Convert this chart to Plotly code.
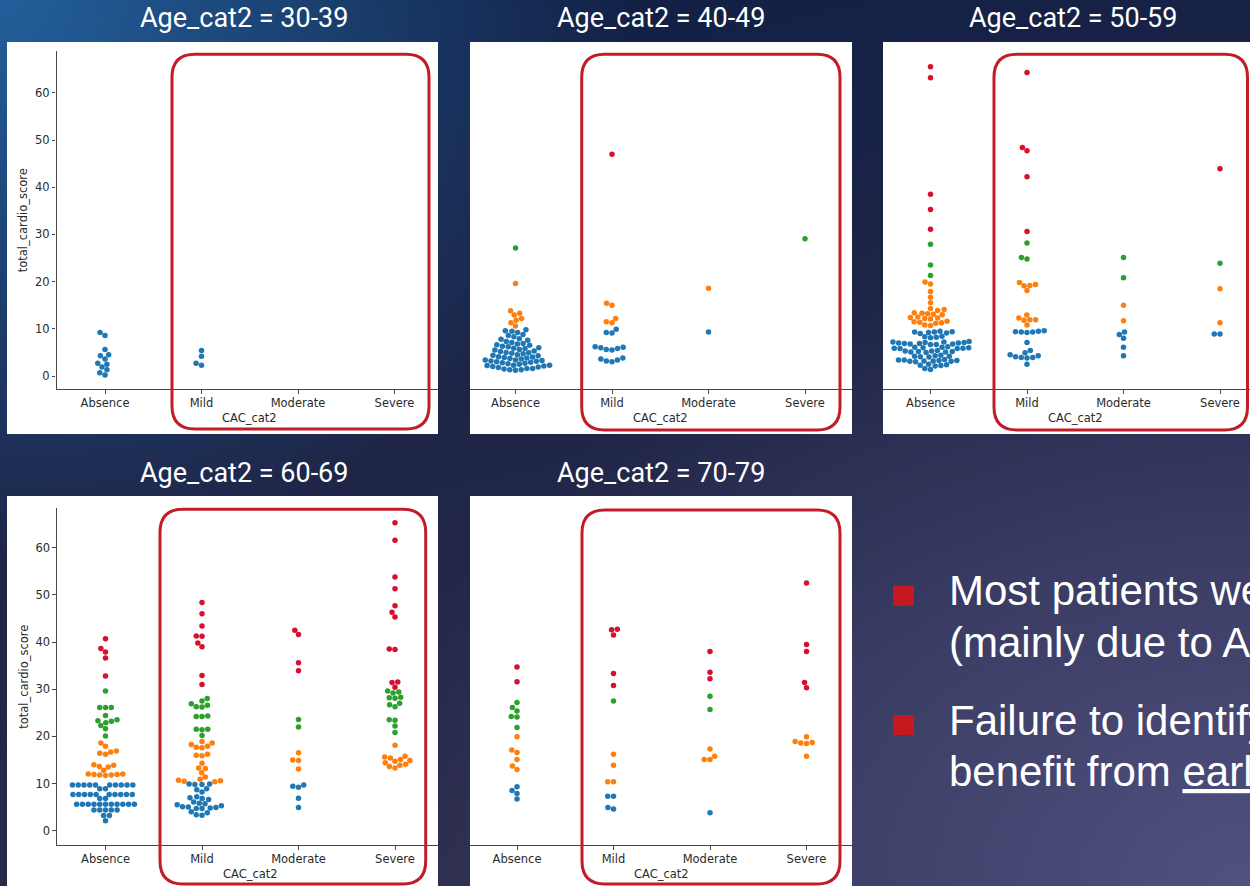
import base64
import numpy as np
import plotly.graph_objects as go

# ---------------------------------------------------------------- data
CAC_LEVELS = ["Absence", "Mild", "Moderate", "Severe"]
AGE_GROUPS = ["30-39", "40-49", "50-59", "60-69", "70-79"]
Y_TICKS = [0, 10, 20, 30, 40, 50, 60]
RISK_EDGES = [10, 20, 30]                       # score bands -> hue
RISK_COLORS = ["#1f77b4", "#ff7f0e", "#2ca02c", "#d6102e"]

# total_cardio_score per patient, grouped by age band and CAC category
score_3039_absence = [9.2, 8.6, 5.6, 4.5, 4.3, 3.6, 2.7, 2.5, 1.9, 1.3, 0.7, 0.2]
score_3039_mild = [5.4, 4.2, 2.7, 2.3]
score_3039_moderate = []
score_3039_severe = []

score_4049_absence = [
    27.1, 19.6, 13.8, 13.3, 12.9, 12.2, 11.8, 11.3, 10.6,
    9.8, 9.6, 9.5, 9.2, 8.8, 8.6, 8.3,
    7.9, 7.8, 7.6, 7.3, 7.1,
    6.9, 6.8, 6.6, 6.5, 6.3, 6.2, 6.0,
    5.9, 5.8, 5.6, 5.5, 5.3, 5.2, 5.0,
    4.9, 4.8, 4.7, 4.5, 4.4, 4.3, 4.1, 4.0,
    3.9, 3.8, 3.7, 3.6, 3.4, 3.4, 3.3, 3.2, 3.1, 3.0,
    2.9, 2.8, 2.7, 2.6, 2.5, 2.3, 2.3, 2.2, 2.1, 2.0,
    1.9, 1.8, 1.6, 1.6, 1.5, 1.3, 1.3, 1.2,
]
score_4049_mild = [47.0, 15.4, 15.0, 12.2, 11.5, 11.3, 9.9, 9.2, 9.1,
                   6.2, 6.1, 6.0, 5.8, 5.6, 5.5, 3.8, 3.6, 3.4, 3.2, 3.0]
score_4049_moderate = [18.6, 9.3]
score_4049_severe = [29.1]

score_5059_absence = [
    65.5, 63.2, 38.5, 35.3, 31.1, 27.9, 23.5, 21.3,
    19.9, 19.5, 17.9, 16.7, 15.5, 14.3, 14.1, 13.9, 13.4, 13.3, 13.2,
    13.1, 13.0, 12.5, 12.4, 12.3, 12.2, 12.1, 11.6, 11.5, 11.4, 11.3,
    11.2, 10.8, 10.7,
    9.5, 9.4, 9.3, 9.3, 9.2, 9.1, 9.0, 8.4, 8.3, 8.2, 8.1,
    7.3, 7.2, 7.2, 7.1, 7.1, 7.0, 7.0, 6.9, 6.9, 6.8, 6.8, 6.7, 6.7,
    6.2, 6.1, 6.1, 6.0, 6.0, 5.9, 5.9, 5.8, 5.8,
    5.4, 5.3, 5.3, 5.2, 5.2, 5.1, 5.1, 5.0,
    4.4, 4.3, 4.2, 4.2, 4.1, 4.0,
    3.5, 3.4, 3.4, 3.3, 3.3, 3.2, 3.2, 3.1, 3.1, 3.0,
    2.5, 2.4, 2.3, 2.2, 2.1, 1.6, 1.4,
]
score_5059_mild = [64.3, 48.4, 47.7, 42.2, 30.6, 28.2, 25.1, 24.8,
                   19.8, 19.4, 19.2, 19.1, 18.1, 12.9, 12.3, 11.9, 11.9, 11.8, 10.8,
                   9.6, 9.5, 9.4, 9.3, 9.3, 9.2, 7.1, 5.4, 4.9, 4.5, 4.3, 4.1,
                   3.9, 3.9, 3.8, 2.5]
score_5059_moderate = [25.1, 20.8, 15.0, 11.7, 9.3, 8.8, 8.0, 6.1, 4.3]
score_5059_severe = [43.9, 23.9, 18.5, 11.3, 8.9, 8.9]

score_6069_absence = [
    40.7, 38.6, 37.9, 36.6, 32.8,
    29.6, 26.1, 26.1, 26.1, 24.4, 23.5, 23.3, 23.2, 22.9, 22.3, 21.6, 20.1,
    18.6, 17.9, 16.9, 16.7, 16.4, 16.2, 14.0, 13.9, 13.6, 13.5, 12.8,
    12.0, 12.0, 11.9, 11.9, 11.8, 11.8, 11.7,
    9.7, 9.7, 9.7, 9.7, 9.7, 9.7, 9.7, 9.7, 9.7, 9.7,
    8.9, 8.9,
    7.7, 7.7, 7.7, 7.7, 7.7, 7.7, 7.7, 7.7, 7.7, 7.7,
    6.8, 6.8,
    5.6, 5.6, 5.6, 5.6, 5.6, 5.6, 5.6, 5.6, 5.6, 5.6, 5.6,
    4.4, 4.4, 4.4, 4.4, 4.4, 3.2, 3.2, 2.1,
]
score_6069_mild = [
    48.4, 46.0, 43.4, 41.3, 41.2, 39.8, 39.0, 32.9, 31.0,
    28.0, 27.5, 26.9, 26.6, 26.3, 26.2, 24.3, 24.2, 24.2, 21.5, 21.5, 21.4, 20.2,
    18.9, 18.6, 18.3, 17.9, 17.7, 17.6, 16.2, 16.0, 15.9, 14.3, 13.3, 13.2,
    12.3, 11.4, 10.9, 10.7, 10.6, 10.5, 10.4,
    9.9, 9.9, 9.8, 9.8, 8.9, 8.7, 8.2, 7.2, 7.0, 6.8, 6.6, 6.1,
    5.8, 5.7, 5.5, 5.3, 5.1, 5.0, 4.9, 4.8, 4.7, 4.7, 4.0, 3.8, 3.4, 3.3,
]
score_6069_moderate = [42.5, 41.6, 35.6, 33.9, 23.6, 22.0, 16.5, 15.0, 14.9,
                       13.1, 9.7, 9.4, 9.2, 6.9, 4.9]
score_6069_severe = [
    65.3, 61.6, 53.8, 51.3, 47.7, 46.3, 45.3, 38.5, 38.4, 31.5, 31.4, 30.4,
    29.6, 29.4, 29.2, 28.3, 28.2, 28.1, 27.0, 26.7, 26.3, 23.5, 23.4, 22.2, 20.8,
    18.1, 15.8, 15.6, 15.4, 15.1, 14.9, 14.7, 14.4, 14.1, 13.9, 13.6, 13.3,
]

score_7079_absence = [34.7, 31.6, 27.2, 26.1, 25.4, 24.2, 24.1, 21.9, 19.9,
                      17.1, 16.6, 15.1, 13.7, 13.0, 9.3, 8.5, 7.9, 6.7]
score_7079_mild = [42.7, 42.6, 41.5, 33.3, 30.8, 27.5, 16.2, 13.9, 10.4, 10.4,
                   7.3, 7.3, 4.9, 4.6]
score_7079_moderate = [38.0, 33.6, 32.2, 28.5, 25.7, 17.3, 15.8, 15.1, 15.1, 3.8]
score_7079_severe = [52.5, 39.5, 38.0, 31.4, 30.3, 19.9, 18.9, 18.7, 18.6, 18.5, 15.8]

SCORES = {
    "30-39": [score_3039_absence, score_3039_mild, score_3039_moderate, score_3039_severe],
    "40-49": [score_4049_absence, score_4049_mild, score_4049_moderate, score_4049_severe],
    "50-59": [score_5059_absence, score_5059_mild, score_5059_moderate, score_5059_severe],
    "60-69": [score_6069_absence, score_6069_mild, score_6069_moderate, score_6069_severe],
    "70-79": [score_7079_absence, score_7079_mild, score_7079_moderate, score_7079_severe],
}

BULLETS = [
    ["Most patients were", "(mainly due to Age)"],
    ["Failure to identify", "benefit from <u>early</u>"],
]

# ---------------------------------------------------------------- layout
W, H = 1250, 886
CAT_STEP = 96.5          # px between neighbouring categories
DOT = 5.5                # marker diameter in px (also swarm spacing)
AXIS_COLOR = "#474747"
TEXT_COLOR = "#2b2b2b"
FRAME_RED = "#c21d27"
BULLET_RED = "#c41a1f"
TITLE_SIZE = 27

# card = white tile, axes = plotting box (left, top, right, bottom) in px,
# cat0 = px of the first category, zero/unit = px of score 0 and px per score unit
PANELS = [
    dict(card=(7, 42, 438, 434), axes=(56.5, 51, 438, 389), cat0=105.0,
         zero=376.0, unit=4.72, yaxis=True, frame=(172, 54.3, 429, 429), title=(243.5, 27)),
    dict(card=(470, 42, 852, 434), axes=(470, 51, 852, 389), cat0=515.5,
         zero=376.0, unit=4.72, yaxis=False, frame=(581.7, 54.3, 840, 430), title=(660.5, 27)),
    dict(card=(883, 42, 1250, 434), axes=(883, 51, 1250, 389), cat0=930.5,
         zero=376.0, unit=4.72, yaxis=False, frame=(994, 54.3, 1247.5, 430), title=(1073, 27)),
    dict(card=(7, 496, 438, 886), axes=(57, 508, 438, 845), cat0=105.5,
         zero=830.7, unit=4.717, yaxis=True, frame=(160, 509.3, 425.7, 884), title=(243.5, 482)),
    dict(card=(470, 496, 852, 886), axes=(470, 508, 852, 845), cat0=517.0,
         zero=830.7, unit=4.717, yaxis=False, frame=(582, 510, 840, 884), title=(660.5, 482)),
]


def fx(px):
    return px / W


def fy(py):
    return 1 - py / H


def risk_color(v):
    return RISK_COLORS[int(np.searchsorted(RISK_EDGES, v, side="right"))]


def beeswarm(y_px, d):
    """Categorical swarm layout: returns horizontal offsets in px."""
    order = np.argsort(y_px, kind="stable")
    px_, py_ = [], []
    out = np.zeros(len(y_px))
    for i in order:
        y = y_px[i]
        nb = [(a, b) for a, b in zip(px_, py_) if abs(y - b) < d]
        cands = [0.0]
        left_first = True
        for a, b in nb:
            dx = np.sqrt(max(d * d - (y - b) ** 2, 0.0)) * 1.05
            cands.extend([a - dx, a + dx] if left_first else [a + dx, a - dx])
            left_first = not left_first
        cands.sort(key=abs)
        x = cands[-1]
        for c in cands:
            if all((c - a) ** 2 + (y - b) ** 2 >= d * d for a, b in nb):
                x = c
                break
        px_.append(x)
        py_.append(y)
        out[i] = x
    return out


def rounded_rect_path(x0, y0, x1, y1, r):
    pts = [
        ("M", [(x0 + r, y0)]), ("L", [(x1 - r, y0)]), ("Q", [(x1, y0), (x1, y0 + r)]),
        ("L", [(x1, y1 - r)]), ("Q", [(x1, y1), (x1 - r, y1)]),
        ("L", [(x0 + r, y1)]), ("Q", [(x0, y1), (x0, y1 - r)]),
        ("L", [(x0, y0 + r)]), ("Q", [(x0, y0), (x0 + r, y0)]),
    ]
    parts = []
    for cmd, coords in pts:
        parts.append(cmd + " " + " ".join(f"{fx(a):.5f},{fy(b):.5f}" for a, b in coords))
    return " ".join(parts) + " Z"


fig = go.Figure()
layout = dict(
    width=W, height=H, margin=dict(l=0, r=0, t=0, b=0),
    paper_bgcolor="#1c2448", plot_bgcolor="rgba(0,0,0,0)",
    showlegend=False, template="none",
)
shapes, annotations = [], []

for k, (age, p) in enumerate(zip(AGE_GROUPS, PANELS), start=1):
    sfx = "" if k == 1 else str(k)
    L, T, R, B = p["axes"]
    layout["xaxis" + sfx] = dict(
        domain=[fx(L), fx(R)],
        range=[(L - p["cat0"]) / CAT_STEP, (R - p["cat0"]) / CAT_STEP],
        anchor="y" + sfx, tickmode="array", tickvals=list(range(len(CAC_LEVELS))),
        ticktext=CAC_LEVELS, showline=True, linecolor=AXIS_COLOR, linewidth=1.3,
        ticks="outside", ticklen=3.5, tickwidth=1.2, tickcolor=AXIS_COLOR,
        tickfont=dict(family="DejaVu Sans", size=11.5, color=TEXT_COLOR),
        showgrid=False, zeroline=False, fixedrange=True,
    )
    layout["yaxis" + sfx] = dict(
        domain=[fy(B), fy(T)],
        range=[(p["zero"] - B) / p["unit"], (p["zero"] - T) / p["unit"]],
        anchor="x" + sfx, tickmode="array", tickvals=Y_TICKS,
        showline=p["yaxis"], linecolor=AXIS_COLOR, linewidth=1.3,
        ticks="outside" if p["yaxis"] else "", ticklen=3.5, tickwidth=1.2,
        tickcolor=AXIS_COLOR, showticklabels=p["yaxis"],
        tickfont=dict(family="DejaVu Sans", size=11.5, color=TEXT_COLOR),
        showgrid=False, zeroline=False, fixedrange=True,
    )

    # swarm of each CAC category
    for j, vals in enumerate(SCORES[age]):
        if not vals:
            continue
        v = np.asarray(vals, dtype=float)
        off = beeswarm(v * p["unit"], DOT)
        off = np.clip(off, -0.4 * CAT_STEP, 0.4 * CAT_STEP)
        fig.add_trace(go.Scatter(
            x=j + off / CAT_STEP, y=v, mode="markers",
            xaxis="x" + sfx, yaxis="y" + sfx,
            marker=dict(size=DOT, color=[risk_color(s) for s in v], line=dict(width=0)),
            hoverinfo="skip",
        ))

    # white tile behind the panel
    cx0, cy0, cx1, cy1 = p["card"]
    shapes.append(dict(type="rect", xref="paper", yref="paper", layer="below",
                       x0=fx(cx0), x1=fx(cx1), y0=fy(cy1), y1=fy(cy0),
                       fillcolor="white", line=dict(width=0)))
    # highlight frame around the calcified groups
    shapes.append(dict(type="path", xref="paper", yref="paper", layer="above",
                       path=rounded_rect_path(*p["frame"], 23),
                       line=dict(color=FRAME_RED, width=3), fillcolor="rgba(0,0,0,0)"))

    # panel title (centre x, baseline y)
    tx, tb = p["title"]
    annotations.append(dict(
        text=f"Age_cat2 = {age}", xref="paper", yref="paper",
        x=fx(tx), y=fy(tb - 0.342 * TITLE_SIZE), xanchor="center", yanchor="middle",
        showarrow=False, font=dict(family="Roboto", size=TITLE_SIZE, color="white"),
    ))
    # axis titles
    annotations.append(dict(
        text="CAC_cat2", xref="paper", yref="paper",
        x=fx(p["cat0"] + 1.5 * CAT_STEP), y=fy(B + 29), xanchor="center", yanchor="middle",
        showarrow=False, font=dict(family="DejaVu Sans", size=11.5, color=TEXT_COLOR),
    ))
    if p["yaxis"]:
        annotations.append(dict(
            text="total_cardio_score", xref="paper", yref="paper", textangle=-90,
            x=fx(23.3), y=fy((T + B) / 2), xanchor="center", yanchor="middle",
            showarrow=False, font=dict(family="DejaVu Sans", size=11.5, color=TEXT_COLOR),
        ))

# bullet points on the right
BULLET_FONT = 42
line_baselines = [[605, 656.7], [735, 786.5]]
square_tops = [585.7, 715]
for lines, bases, top in zip(BULLETS, line_baselines, square_tops):
    shapes.append(dict(type="rect", xref="paper", yref="paper", layer="above",
                       x0=fx(893), x1=fx(914), y0=fy(top + 20), y1=fy(top),
                       fillcolor=BULLET_RED, line=dict(width=0)))
    for text, base in zip(lines, bases):
        annotations.append(dict(
            text=text, xref="paper", yref="paper",
            x=fx(947), y=fy(base - 0.3465 * BULLET_FONT), xanchor="left", yanchor="middle",
            showarrow=False, align="left",
            font=dict(family="Liberation Sans", size=BULLET_FONT, color="white"),
        ))

# slide background: navy gradient with a blue glow top-left and lighter violet bottom-right
bg_svg = f"""<svg xmlns='http://www.w3.org/2000/svg' width='{W}' height='{H}' viewBox='0 0 {W} {H}'>
<defs>
<linearGradient id='base' x1='0' y1='0' x2='0.3' y2='1'>
<stop offset='0' stop-color='#0f1e44'/>
<stop offset='1' stop-color='#2b2b4a'/>
</linearGradient>
<radialGradient id='tl' gradientUnits='userSpaceOnUse' cx='0' cy='0' r='1' gradientTransform='scale(640 560)'>
<stop offset='0' stop-color='#2463a0' stop-opacity='0.95'/>
<stop offset='1' stop-color='#2463a0' stop-opacity='0'/>
</radialGradient>
<radialGradient id='br' gradientUnits='userSpaceOnUse' cx='0' cy='0' r='1' gradientTransform='translate({W} {H}) scale(900 650)'>
<stop offset='0' stop-color='#4f5180' stop-opacity='1'/>
<stop offset='1' stop-color='#4f5180' stop-opacity='0'/>
</radialGradient>
</defs>
<rect width='{W}' height='{H}' fill='url(#base)'/>
<rect width='{W}' height='{H}' fill='url(#tl)'/>
<rect width='{W}' height='{H}' fill='url(#br)'/>
</svg>"""
bg_uri = "data:image/svg+xml;base64," + base64.b64encode(bg_svg.encode()).decode()

layout["images"] = [dict(source=bg_uri, xref="paper", yref="paper", x=0, y=1,
                         sizex=1, sizey=1, xanchor="left", yanchor="top",
                         sizing="stretch", layer="below")]
layout["shapes"] = shapes
layout["annotations"] = annotations
fig.update_layout(**layout)

fig.write_html("out.html", config={"displayModeBar": False})
